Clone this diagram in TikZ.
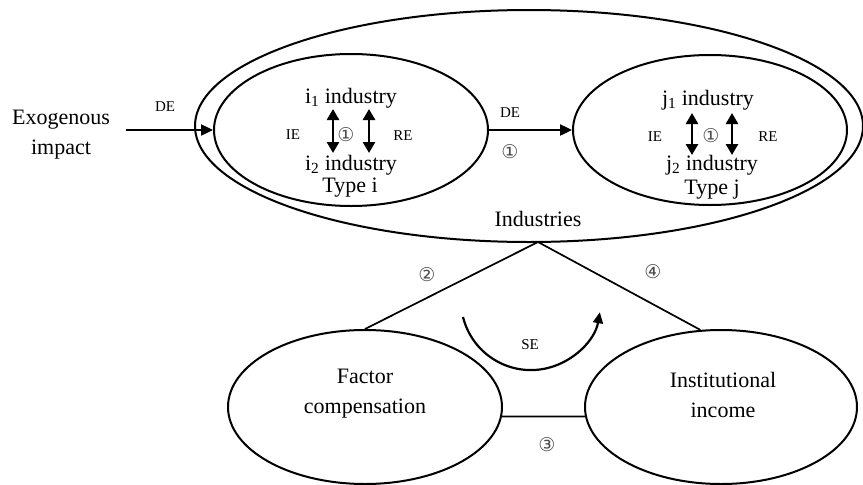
\documentclass[tikz,border=0pt]{standalone}
\usepackage{fontspec}
\setmainfont{Liberation Serif}
\newfontfamily\circfont{DejaVu Sans}
\usetikzlibrary{shapes.geometric,arrows.meta}
\begin{document}
\begin{tikzpicture}[x=1pt,y=1pt,
 every node/.style={inner sep=0pt},
 oval/.style={draw, ellipse, line width=2pt, inner sep=0pt},
 big/.style={font=\fontsize{22}{30}\selectfont, align=center},
 small/.style={font=\fontsize{15}{15}\selectfont},
 circ/.style={font=\circfont\fontsize{19}{19}\selectfont, text=black!70},
 arr/.style={line width=2.4pt, -{Triangle[length=12pt,width=11pt]}},
 darr/.style={line width=2.6pt, {Triangle[length=11pt,width=12pt]}-{Triangle[length=11pt,width=12pt]}},
 link/.style={line width=1.7pt}]
\useasboundingbox (0,0) rectangle (863,-485);

% ellipses
\node[oval, minimum width=668pt, minimum height=232pt] (outer) at (529,-126) {};
\node[oval, minimum width=274pt, minimum height=152pt] (ti) at (351,-130) {};
\node[oval, minimum width=274pt, minimum height=150pt] (tj) at (710,-130) {};
\node[oval, minimum width=274pt, minimum height=154pt] (fac) at (365,-407) {};
\node[oval, minimum width=272pt, minimum height=154pt] (ins) at (721,-407) {};

% texts
\node[big] (exo) at (61,-135) {Exogenous\\impact};
\node[small] (de1) at (165,-107) {DE};
\node[small] (de2) at (510,-113) {DE};
\node[circ] (c1m) at (510,-152) {①};

\node[big] (i1) at (351,-98) {i\textsubscript{1} industry};
\node[big] (i2) at (351,-165) {i\textsubscript{2} industry};
\node[big] (typi) at (350,-188) {Type i};
\node[small] (iei) at (293,-135) {IE};
\node[small] (rei) at (403,-136) {RE};
\node[circ] (c1i) at (346,-135) {①};

\node[big] (j1) at (708,-100) {j\textsubscript{1} industry};
\node[big] (j2) at (712,-165) {j\textsubscript{2} industry};
\node[big] (typj) at (712,-190) {Type j};
\node[small] (iej) at (655,-137) {IE};
\node[small] (rej) at (768,-137) {RE};
\node[circ] (c1j) at (711,-136) {①};

\node[big] (indus) at (538,-219) {Industries};
\node[big] (factxt) at (365,-394) {Factor\\compensation};
\node[big] (instxt) at (723,-395) {Institutional\\income};

\node[circ] (c2) at (427,-275) {②};
\node[circ] (c4) at (653,-272) {④};
\node[circ] (c3) at (547,-445) {③};
\node[small] (se) at (530,-345) {SE};

% connectors
\coordinate (exoout) at (126,-130);
\draw[arr] (exoout) -- (ti.west);
\draw[arr] (ti.east) -- (tj.west);

\draw[darr] ([shift={(-18pt,-11pt)}]i1.center) -- ([shift={(-18pt,12pt)}]i2.center);
\draw[darr] ([shift={(18pt,-11pt)}]i1.center) -- ([shift={(18pt,12pt)}]i2.center);
\draw[darr] ([shift={(-16pt,-13pt)}]j1.center) -- ([shift={(-20pt,10pt)}]j2.center);
\draw[darr] ([shift={(24pt,-13pt)}]j1.center) -- ([shift={(20pt,10pt)}]j2.center);

\coordinate (apex) at (538,-242);
\draw[link] (apex) -- (fac.north);
\draw[link] (apex) -- (ins.105);
\draw[link] (fac.-4) -- (ins.184);

% SE arc
\draw[line width=2.2pt, -{Triangle[length=11pt,width=10pt]}] (463,-317) arc[start angle=194, end angle=350, radius=70];
\end{tikzpicture}
\end{document}
